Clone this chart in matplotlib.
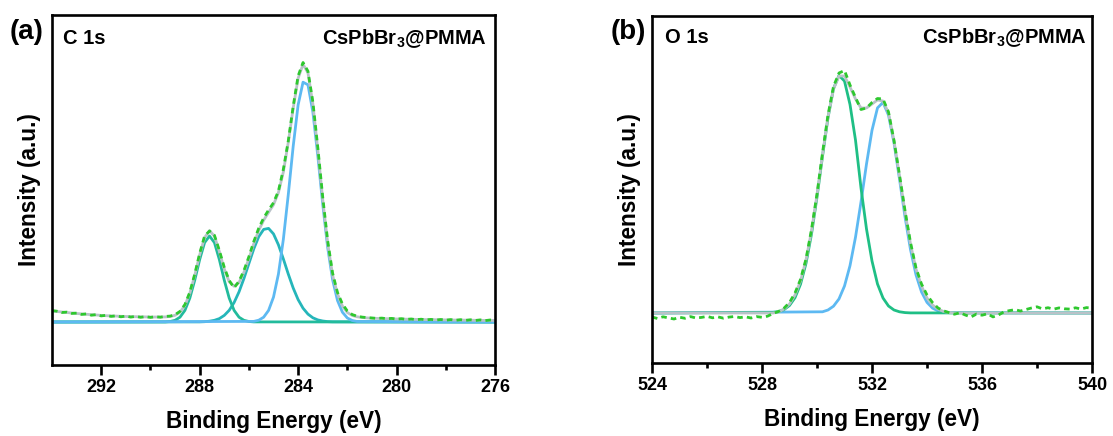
import numpy as np
import matplotlib
matplotlib.use('Agg')
import matplotlib.pyplot as plt

plt.rcParams['font.family'] = 'Liberation Sans'
plt.rcParams['font.weight'] = 'bold'
plt.rcParams['mathtext.fontset'] = 'custom'
plt.rcParams['mathtext.rm'] = 'Liberation Sans:bold'
plt.rcParams['mathtext.bf'] = 'Liberation Sans:bold'

# ---------------- (a) C 1s ----------------
# measured spectrum, 294.0 -> 276.0 eV, step 0.2 eV
c1s_e = np.round(np.arange(294.0, 275.99, -0.2), 1)
c1s_data = [
    11.4, 10.8, 9.5, 9.9, 8.6,
    8.9, 7.6, 8.1, 6.8, 7.4,
    6.1, 6.7, 5.6, 6.2, 5.2,
    5.9, 4.9, 5.6, 4.7, 5.4,
    4.6, 5.3, 4.8, 5.6, 5.9,
    7.3, 10.6, 17.4, 29.8, 47.9,
    68.6, 85.9, 91.0, 86.7, 71.5,
    54.6, 41.5, 34.2, 40.8, 51.5,
    65.3, 80.5, 93.8, 104.0, 112.0,
    119.2, 131.0, 152.6, 181.0, 215.5,
    246.0, 259.5, 250.8, 220.0, 174.6,
    125.0, 81.5, 49.0, 29.5, 18.0,
    11.0, 7.4, 5.8, 4.9, 4.4,
    4.0, 3.6, 3.9, 3.3, 3.6,
    2.9, 3.3, 2.6, 3.0, 2.3,
    2.8, 2.1, 2.6, 1.9, 2.5,
    1.8, 2.4, 1.7, 2.3, 1.6,
    2.2, 1.5, 2.1, 1.4, 2.0,
    1.6]
# fitted envelope (with background)
c1s_env = [
    11.0, 10.5, 10.0, 9.5, 9.0,
    8.5, 8.1, 7.7, 7.3, 7.0,
    6.6, 6.3, 6.1, 5.9, 5.7,
    5.5, 5.4, 5.3, 5.2, 5.1,
    5.0, 5.0, 5.0, 5.1, 5.5,
    6.7, 9.7, 16.5, 28.8, 46.6,
    67.2, 84.4, 91.4, 85.8, 70.4,
    53.0, 40.2, 35.7, 39.5, 49.8,
    63.5, 78.4, 91.5, 101.8, 109.6,
    117.3, 129.4, 150.0, 179.6, 213.9,
    243.7, 257.7, 249.2, 218.1, 172.2,
    122.6, 78.9, 47.0, 28.0, 16.0,
    9.5, 6.5, 5.2, 4.5, 4.1,
    3.8, 3.6, 3.5, 3.3, 3.2,
    3.0, 2.9, 2.8, 2.7, 2.6,
    2.5, 2.4, 2.35, 2.3, 2.2,
    2.1, 2.0, 1.95, 1.9, 1.85,
    1.8, 1.7, 1.65, 1.6, 1.55,
    1.5]

# fitted components
c1s_p3_e = np.round(np.arange(289.4, 285.79, -0.2), 1)   # ~287.6 eV
c1s_p3 = [0.1, 0.5, 1.7, 4.8, 11.6, 23.9, 41.8, 62.4, 79.4, 86.0,
          79.4, 62.4, 41.8, 23.9, 11.6, 4.8, 1.7, 0.5, 0.1]
c1s_p2_e = np.round(np.arange(288.0, 282.59, -0.2), 1)   # ~285.3 eV
c1s_p2 = [0.1, 0.3, 0.8, 1.7, 3.4, 6.6, 11.7, 19.5, 30.2, 43.6,
          58.5, 73.2, 85.3, 92.6, 93.6, 88.1, 77.2, 63.1, 48.0, 34.0,
          22.4, 13.8, 7.9, 4.2, 2.1, 1.0, 0.4, 0.2]
c1s_p1_e = np.round(np.arange(285.8, 281.59, -0.2), 1)   # ~283.7 eV
c1s_p1 = [0.6, 1.8, 4.8, 11.6, 24.9, 47.9, 82.6, 127.3, 175.7, 217.1,
          239.8, 237.2, 209.9, 166.2, 117.8, 74.7, 42.4, 21.5, 9.8, 4.0,
          1.5, 0.5]

# ---------------- (b) O 1s ----------------
o1s_e = np.round(np.arange(524.0, 540.01, 0.2), 1)
o1s_data = [
    -4.0, -5.5, -3.8, -4.9, -6.0,
    -4.2, -5.3, -3.6, -5.0, -4.4,
    -3.4, -4.8, -3.9, -5.2, -4.1,
    -3.5, -4.6, -3.8, -5.0, -3.6,
    -4.3, -3.2, -0.5, 1.5, 4.8,
    10.5, 20.0, 33.5, 54.0, 83.5,
    119.0, 160.0, 198.0, 226.5, 240.0,
    242.5, 228.0, 215.5, 203.5, 205.0,
    210.5, 214.5, 214.0, 201.0, 172.5,
    138.0, 102.5, 70.5, 45.0, 29.0,
    18.0, 10.5, 5.0, 2.2, 0.4,
    -1.2, 0.3, -2.1, -4.0, -1.0,
    -2.2, -0.8, -3.9, -2.0, 1.2,
    2.4, 3.3, 2.0, 3.5, 5.0,
    6.2, 4.1, 5.3, 3.8, 5.1,
    4.2, 3.9, 5.2, 4.0, 5.4,
    4.8]
o1s_env_e = np.round(np.arange(528.4, 535.01, 0.2), 1)
o1s_env = [0, 1, 4, 9, 18, 32, 53, 82,
           118, 158, 196, 224, 237,
           237, 226, 214, 205, 205,
           209, 213, 212, 200, 172,
           137, 101, 69, 44, 27,
           15, 8, 4, 1.5, 0.5,
           0]
o1s_p1_e = np.round(np.arange(528.4, 533.41, 0.2), 1)   # ~530.8 eV
o1s_p1 = [0.6, 1.4, 3.4, 7.5, 15.3, 28.7, 49.6, 78.9, 115.9, 156.7,
          195.3, 224.4, 237.6, 231.9, 208.5, 172.9, 125.0, 84.0, 52.0, 29.0,
          15.0, 7.0, 3.0, 1.2, 0.4, 0.1]
o1s_p2_e = np.round(np.arange(530.2, 534.81, 0.2), 1)   # ~532.4 eV
o1s_p2 = [1.2, 3.0, 6.8, 14.1, 27.0, 47.3, 75.8, 111.0, 149.0, 182.7,
          205.1, 210.6, 197.9, 170.2, 133.9, 96.3, 63.4, 38.2, 21.1, 10.6,
          4.9, 2.1, 0.8, 0.3]

green_data = '#2ec82e'
env_col = '#b9c2c8'
blue = '#5db9f2'
teal = '#25b6ba'
teal_green = '#22bb9c'
green_fit = '#1fbf85'


def pad(e, y, lo, hi):
    # extend a component with zero baseline to the full range
    e = np.concatenate(([hi], e, [lo])) if e[0] > e[-1] else np.concatenate(([lo], e, [hi]))
    y = np.concatenate(([0.0], y, [0.0]))
    return e, y


def style(ax, xlim, ylim, major, minor):
    ax.set_xlim(*xlim)
    ax.set_ylim(*ylim)
    ax.set_yticks([])
    ax.set_xticks(major)
    ax.set_xticks(minor, minor=True)
    for s in ax.spines.values():
        s.set_linewidth(1.9)
    ax.tick_params(axis='x', which='major', direction='out', length=7, width=1.9,
                   labelsize=13, pad=3)
    ax.tick_params(axis='x', which='minor', direction='out', length=3.5, width=1.9)
    for lab in ax.get_xticklabels():
        lab.set_fontweight('bold')
    ax.set_xlabel('Binding Energy (eV)', fontsize=16.3, fontweight='bold', labelpad=10)
    ax.set_ylabel('Intensity (a.u.)', fontsize=16.3, fontweight='bold', labelpad=8)


fig = plt.figure(figsize=(11.13, 4.36), dpi=100)

ax1 = fig.add_axes([52 / 1113, 71 / 436, 443 / 1113, 350 / 436])
e, y = pad(c1s_p2_e, c1s_p2, 276, 294)
ax1.plot(e, y, color=teal, lw=2.0)
e, y = pad(c1s_p3_e, c1s_p3, 276, 294)
ax1.plot(e, y, color=teal_green, lw=2.0)
e, y = pad(c1s_p1_e, c1s_p1, 276, 294)
ax1.plot(e, y, color=blue, lw=2.0)
ax1.plot(c1s_e, c1s_env, color=env_col, lw=2.0)
ax1.plot(c1s_e, c1s_data, color=green_data, lw=2.0, ls=(0, (2, 1.5)))
style(ax1, (294, 276), (-43, 307), [292, 288, 284, 280, 276], [290, 286, 282, 278])
ax1.text(0.025, 0.934, 'C 1s', transform=ax1.transAxes, fontsize=14.5,
         fontweight='bold', va='center', ha='left')
ax1.text(0.982, 0.934, r'CsPbBr$_\mathbf{3}$@PMMA', transform=ax1.transAxes,
         fontsize=14.5, fontweight='bold', va='center', ha='right')

ax2 = fig.add_axes([652 / 1113, 73 / 436, 440 / 1113, 347 / 436])
e, y = pad(o1s_p2_e, o1s_p2, 524, 540)
ax2.plot(e, y, color=blue, lw=2.0)
e, y = pad(o1s_p1_e, o1s_p1, 524, 540)
ax2.plot(e, y, color=green_fit, lw=2.0)
e, y = pad(o1s_env_e, o1s_env, 524, 540)
ax2.plot(e, y, color=env_col, lw=2.0)
ax2.plot(o1s_e, o1s_data, color=green_data, lw=2.0, ls=(0, (2, 1.5)))
style(ax2, (524, 540), (-50, 297), [524, 528, 532, 536, 540], [526, 530, 534, 538])
ax2.text(0.03, 0.937, 'O 1s', transform=ax2.transAxes, fontsize=14.5,
         fontweight='bold', va='center', ha='left')
ax2.text(0.989, 0.937, r'CsPbBr$_\mathbf{3}$@PMMA', transform=ax2.transAxes,
         fontsize=14.5, fontweight='bold', va='center', ha='right')

fig.text(10 / 1113, 1 - 32 / 436, '(a)', fontsize=20, fontweight='bold', va='center')
fig.text(611 / 1113, 1 - 32 / 436, '(b)', fontsize=20, fontweight='bold', va='center')

fig.savefig('out.png', dpi=100)
